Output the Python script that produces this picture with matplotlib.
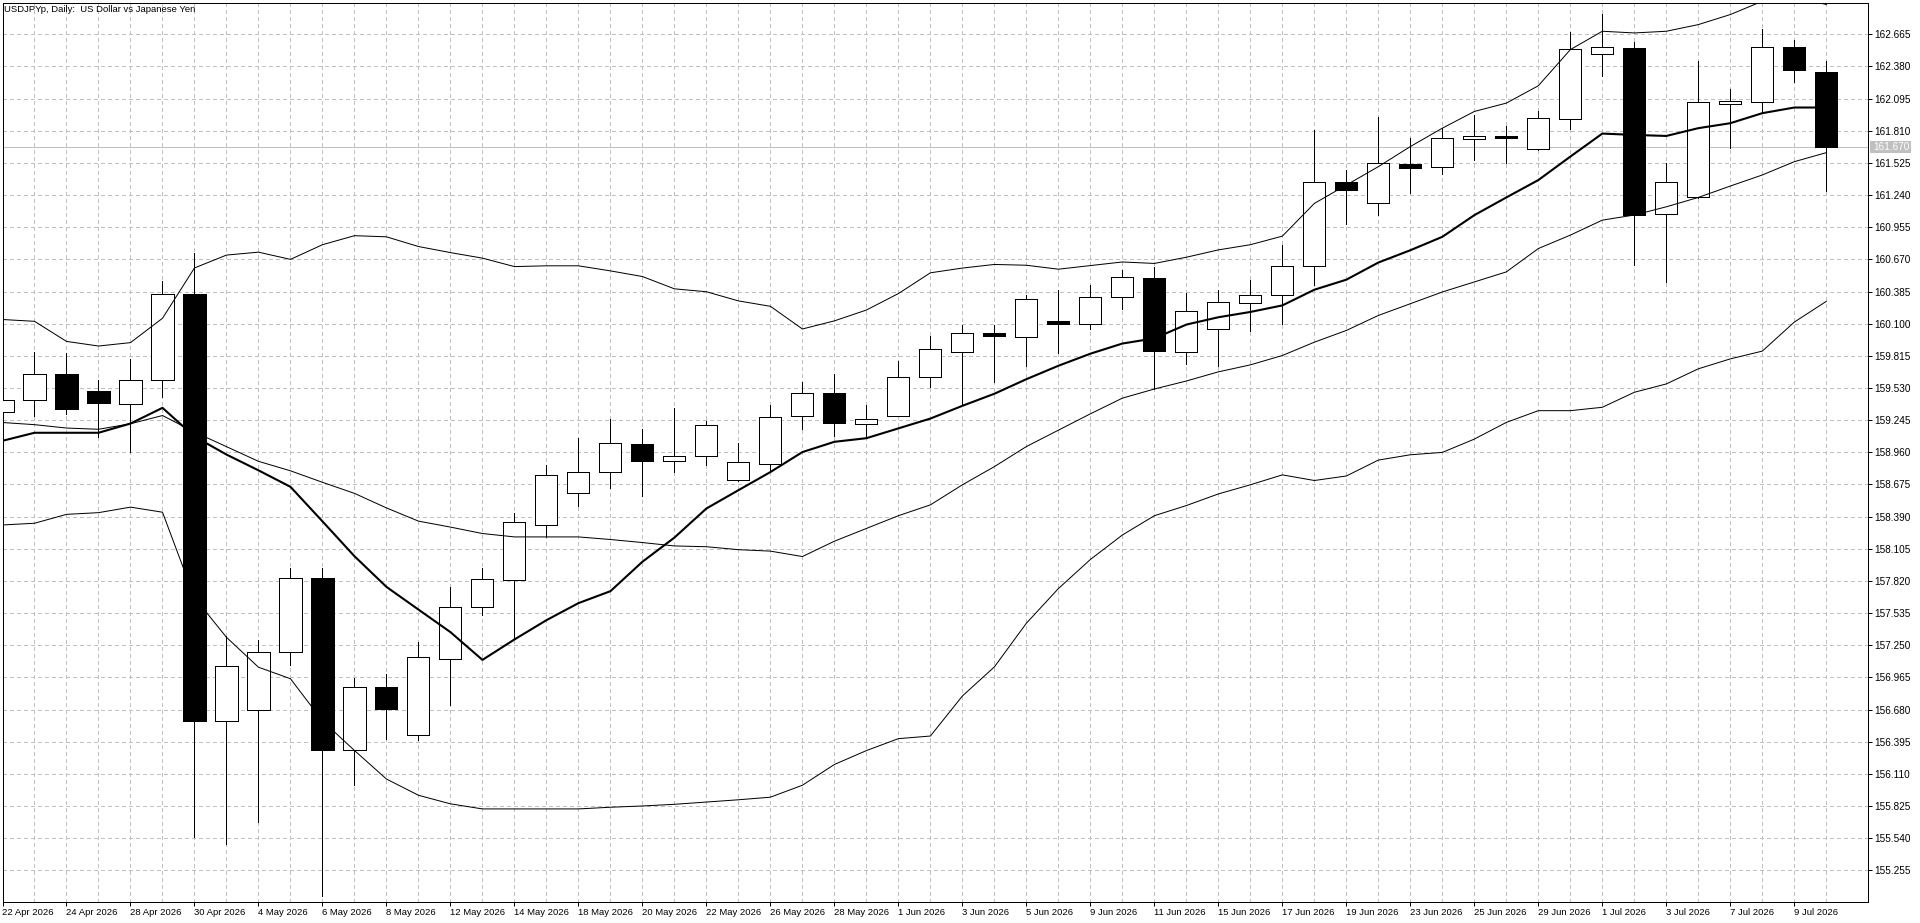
import matplotlib.pyplot as plt
from matplotlib.patches import Rectangle

dates = ['22 Apr 2026', '23 Apr 2026', '24 Apr 2026', '27 Apr 2026', '28 Apr 2026', '29 Apr 2026',
         '30 Apr 2026', '1 May 2026', '4 May 2026', '5 May 2026', '6 May 2026', '7 May 2026',
         '8 May 2026', '11 May 2026', '12 May 2026', '13 May 2026', '14 May 2026', '15 May 2026',
         '18 May 2026', '19 May 2026', '20 May 2026', '21 May 2026', '22 May 2026', '25 May 2026',
         '26 May 2026', '27 May 2026', '28 May 2026', '29 May 2026', '1 Jun 2026', '2 Jun 2026',
         '3 Jun 2026', '4 Jun 2026', '5 Jun 2026', '8 Jun 2026', '9 Jun 2026', '10 Jun 2026',
         '11 Jun 2026', '12 Jun 2026', '15 Jun 2026', '16 Jun 2026', '17 Jun 2026', '18 Jun 2026',
         '19 Jun 2026', '22 Jun 2026', '23 Jun 2026', '24 Jun 2026', '25 Jun 2026', '26 Jun 2026',
         '29 Jun 2026', '30 Jun 2026', '1 Jul 2026', '2 Jul 2026', '3 Jul 2026', '6 Jul 2026',
         '7 Jul 2026', '8 Jul 2026', '9 Jul 2026', '10 Jul 2026']

opens = [159.32, 159.42, 159.65, 159.50, 159.39, 159.60, 160.36, 156.575, 156.673, 157.188,
         157.85, 156.317, 156.877, 156.45, 157.131, 157.585, 157.831, 158.319, 158.596, 158.781,
         159.037, 158.885, 158.93, 158.717, 158.859, 159.279, 159.489, 159.214, 159.285, 159.624,
         159.853, 160.018, 159.986, 160.128, 160.099, 160.334, 160.505, 159.853, 160.05, 160.286,
         160.357, 160.612, 161.353, 161.166, 161.516, 161.486, 161.735, 161.764, 161.646, 161.912,
         162.49, 162.546, 161.068, 161.219, 162.046, 162.064, 162.552, 162.333]
highs = [159.45, 159.85, 159.84, 159.60, 159.79, 160.48, 160.73, 157.33, 157.30, 157.933,
         157.933, 156.961, 156.991, 157.275, 157.767, 157.933, 158.425, 158.849, 159.088, 159.251,
         159.163, 159.35, 159.237, 159.043, 159.382, 159.582, 159.65, 159.379, 159.769, 159.989,
         160.086, 160.086, 160.35, 160.399, 160.447, 160.576, 160.602, 160.376, 160.399, 160.485,
         160.796, 161.818, 161.462, 161.936, 161.75, 161.838, 161.951, 161.853, 161.987, 162.683,
         162.849, 162.597, 161.521, 162.431, 162.182, 162.715, 162.618, 162.431]
lows = [159.28, 159.28, 159.30, 159.10, 158.96, 159.45, 155.55, 155.485, 155.686, 157.074,
        155.03, 156.014, 156.42, 156.412, 156.722, 157.517, 157.301, 158.21, 158.482, 158.645,
        158.575, 158.785, 158.849, 158.704, 158.785, 159.166, 159.101, 159.091, 159.28, 159.537,
        159.382, 159.582, 159.727, 159.84, 160.05, 160.231, 159.521, 159.74, 159.727, 160.034,
        160.099, 160.44, 160.982, 161.062, 161.261, 161.427, 161.551, 161.527, 161.64, 161.83,
        162.292, 160.618, 160.47, 161.21, 161.661, 161.966, 162.244, 161.276]
closes = [159.42, 159.65, 159.345, 159.40, 159.60, 160.36, 156.575, 157.063, 157.188, 157.85,
          156.325, 156.877, 156.688, 157.15, 157.585, 157.835, 158.338, 158.762, 158.781, 159.039,
          158.885, 158.93, 159.198, 158.872, 159.276, 159.489, 159.221, 159.259, 159.631, 159.873,
          160.021, 159.992, 160.318, 160.099, 160.334, 160.512, 159.86, 160.208, 160.296, 160.357,
          160.612, 161.353, 161.287, 161.521, 161.483, 161.744, 161.761, 161.744, 161.921, 162.535,
          162.552, 161.065, 161.353, 162.064, 162.072, 162.552, 162.345, 161.67]

ma_line = [159.062, 159.133, 159.133, 159.133, 159.215, 159.354, 159.10, 158.94, 158.80, 158.654,
           158.348, 158.039, 157.767, 157.566, 157.366, 157.120, 157.301, 157.472, 157.623, 157.729,
           157.99, 158.204, 158.462, 158.624, 158.785, 158.962, 159.053, 159.085, 159.172, 159.259,
           159.372, 159.479, 159.608, 159.727, 159.834, 159.924, 159.970, 160.092, 160.157, 160.204,
           160.262, 160.401, 160.490, 160.642, 160.751, 160.870, 161.062, 161.219, 161.373, 161.581,
           161.785, 161.773, 161.764, 161.833, 161.877, 161.966, 162.016, 162.016]

bb_upper = [160.137, 160.121, 159.943, 159.902, 159.932, 160.148, 160.594, 160.708, 160.734, 160.67,
            160.80, 160.88, 160.87, 160.784, 160.73, 160.681, 160.606, 160.613, 160.613, 160.568,
            160.518, 160.409, 160.383, 160.302, 160.254, 160.053, 160.125, 160.221, 160.367, 160.551,
            160.593, 160.625, 160.618, 160.583, 160.615, 160.647, 160.634, 160.689, 160.754, 160.80,
            160.876, 161.166, 161.329, 161.492, 161.670, 161.833, 161.981, 162.055, 162.209, 162.529,
            162.692, 162.677, 162.692, 162.751, 162.840, 162.958, 163.00, 162.929]
bb_middle = [159.224, 159.205, 159.175, 159.164, 159.213, 159.286, 159.14, 159.01, 158.880, 158.796,
             158.694, 158.596, 158.467, 158.350, 158.297, 158.240, 158.210, 158.210, 158.210, 158.187,
             158.16, 158.130, 158.123, 158.097, 158.084, 158.036, 158.172, 158.285, 158.398, 158.494,
             158.672, 158.833, 159.011, 159.156, 159.301, 159.440, 159.521, 159.592, 159.673, 159.735,
             159.818, 159.936, 160.040, 160.173, 160.277, 160.381, 160.470, 160.559, 160.766, 160.885,
             161.018, 161.063, 161.136, 161.219, 161.320, 161.418, 161.536, 161.616]
bb_lower = [158.316, 158.331, 158.410, 158.425, 158.474, 158.429, 157.672, 157.320, 157.055, 156.953,
            156.58, 156.317, 156.064, 155.920, 155.844, 155.799, 155.799, 155.799, 155.799, 155.814,
            155.825, 155.84, 155.86, 155.880, 155.903, 156.009, 156.193, 156.316, 156.422, 156.445,
            156.800, 157.058, 157.445, 157.752, 158.010, 158.227, 158.398, 158.488, 158.591, 158.672,
            158.76, 158.71, 158.75, 158.891, 158.938, 158.959, 159.077, 159.225, 159.329, 159.329,
            159.359, 159.492, 159.566, 159.700, 159.788, 159.857, 160.114, 160.298]

price_ticks = [155.255 + 0.285 * k for k in range(27)]
last_price = 161.670

W, H = 1920, 923
# chart frame in pixels
px_left, px_right, px_top, px_bottom = 2.5, 1868, 3, 902
bar_px, bar0_px = 32.0, 2.3
yen_px, ref_price, ref_px = 112.82, 162.665, 34.3
px1 = 0.72  # one pixel in points
font = 'Liberation Sans'
xsize, ysize = 6.8, 7.2

fig = plt.figure(figsize=(W / 100, H / 100), dpi=100)
fig.patch.set_facecolor('white')
ax = fig.add_axes([px_left / W, 1 - px_bottom / H, (px_right - px_left) / W, (px_bottom - px_top) / H])
ax.set_xlim((px_left - bar0_px) / bar_px, (px_right - bar0_px) / bar_px)
ax.set_ylim(ref_price - (px_bottom - ref_px) / yen_px, ref_price + (ref_px - px_top) / yen_px)

for s in ax.spines.values():
    s.set_color('black')
    s.set_linewidth(px1)

xs = list(range(len(dates)))

# grid: one vertical line per bar, horizontal per price level
ax.set_xticks(xs[::2])
ax.set_xticklabels(dates[::2])
ax.set_xticks(xs[1::2], minor=True)
ax.set_yticks(price_ticks)
ax.set_yticklabels([f'{p:.3f}' for p in price_ticks])
ax.yaxis.tick_right()
ax.grid(True, which='both', color='#c0c0c0', linestyle=(0, (3, 3)), linewidth=px1, antialiased=False)
ax.set_axisbelow(True)
ax.tick_params(axis='both', which='major', direction='out', length=3, width=px1, color='black', pad=1.5)
ax.tick_params(axis='x', which='major', labelsize=xsize)
ax.tick_params(axis='y', which='major', labelsize=ysize)
ax.tick_params(axis='x', which='minor', length=0)
for lbl in ax.get_xticklabels():
    lbl.set_ha('left')
for lbl in ax.get_xticklabels() + ax.get_yticklabels():
    lbl.set_family(font)

# current price line
ax.axhline(last_price, color='#c0c0c0', linewidth=px1, zorder=1, antialiased=False)

# candles
bottoms = [min(o, c) for o, c in zip(opens, closes)]
heights = [abs(c - o) for o, c in zip(opens, closes)]
colors = ['white' if c >= o else 'black' for o, c in zip(opens, closes)]
ax.vlines(xs, lows, highs, color='black', linewidth=px1, zorder=2, antialiased=False)
ax.bar(xs, heights, bottom=bottoms, width=0.69, color=colors, edgecolor='black',
       linewidth=px1, zorder=3, antialiased=False)

# indicators
ax.plot(xs, bb_upper, color='black', linewidth=px1, zorder=4)
ax.plot(xs, bb_middle, color='black', linewidth=px1, zorder=4)
ax.plot(xs, bb_lower, color='black', linewidth=px1, zorder=4)
ax.plot(xs, ma_line, color='black', linewidth=1.5, zorder=5)

# price tag on the right scale
tag_y = ref_px + (ref_price - last_price) * yen_px
fig.patches.append(Rectangle((1870 / W, 1 - (tag_y + 6) / H), 41 / W, 12 / H,
                             transform=fig.transFigure, facecolor='#c0c0c0', edgecolor='none'))
fig.text(1873 / W, 1 - tag_y / H, f'{last_price:.3f}', color='white', fontsize=ysize,
         family=font, va='center', ha='left')

fig.text(4 / W, 1 - 10 / H, 'USDJPYp, Daily:  US Dollar vs Japanese Yen', fontsize=xsize,
         family=font, va='center', ha='left')

plt.savefig('out.png', dpi=100)
plt.close()
